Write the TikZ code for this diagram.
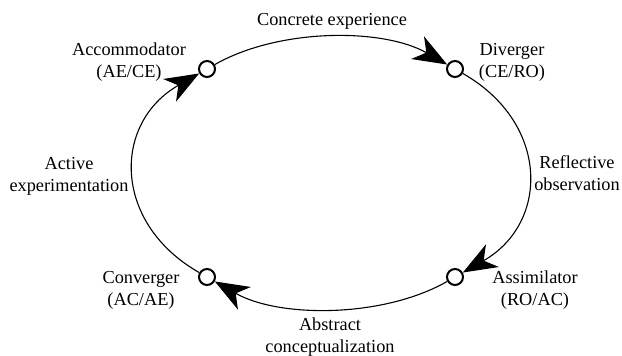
\documentclass[tikz,border=0pt]{standalone}
\usepackage{fontspec}
\setmainfont{Liberation Serif}
\usetikzlibrary{arrows.meta}
\begin{document}
\begin{tikzpicture}[x=1pt,y=-1pt,
  stage/.style={circle,draw,line width=2pt,fill=white,minimum size=16pt,inner sep=0pt},
  lbl/.style={align=center,anchor=base,inner sep=0pt,font=\fontsize{18.3}{22.5}\selectfont},
  flow/.style={line width=1.1pt,-{Stealth[length=34pt 0 0,width=26pt 0 0,inset=10pt 0]}}]
\useasboundingbox (0,0) rectangle (622,356);
\node[stage] (acc) at (207,69) {};
\node[stage] (div) at (455,69) {};
\node[stage] (asm) at (455,277) {};
\node[stage] (con) at (207,277) {};
\draw[flow] (acc) .. controls +(72.1,-41.1) and +(-72.1,-41.1) .. (div);
\draw[flow] (div) .. controls +(94.7,54) and +(94.7,-54) .. (asm);
\draw[flow] (asm) .. controls +(-72.1,41.1) and +(72.1,41.1) .. (con);
\draw[flow] (con) .. controls +(-94.7,-54) and +(-94.7,54) .. (acc);
\node[lbl] (tce) at (332,25) {Concrete experience};
\node[lbl] (tacc) at (129,77.5) {Accommodator\\(AE/CE)};
\node[lbl] (tdiv) at (512,77.5) {Diverger\\(CE/RO)};
\node[lbl] (tro) at (577,190.5) {Reflective\\observation};
\node[lbl] (tae) at (69,191.5) {Active\\experimentation};
\node[lbl] (tasm) at (535,305.5) {Assimilator\\(RO/AC)};
\node[lbl] (tcon) at (141,305.5) {Converger\\(AC/AE)};
\node[lbl] (tac) at (330,352.5) {Abstract\\conceptualization};
\end{tikzpicture}
\end{document}
